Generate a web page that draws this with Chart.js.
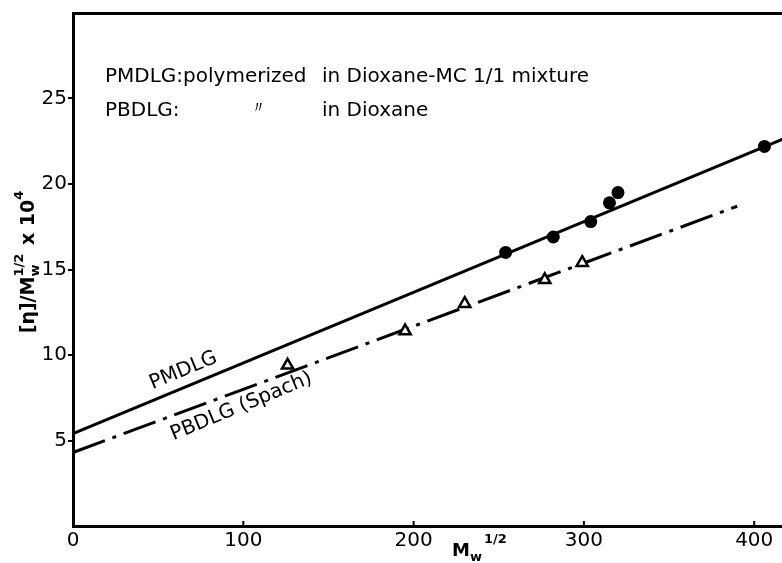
<!DOCTYPE html>
<html lang="en">
<head>
  <meta charset="UTF-8">
  <title>[η]/Mw^1/2 vs Mw^1/2</title>
  <script src="https://cdn.jsdelivr.net/npm/chart.js"></script>
  <style>
    html, body { margin: 0; padding: 0; background: #fff; overflow: hidden; }
    #box { width: 800px; height: 563px; }
  </style>
</head>
<body>
  <div id="box"><canvas id="chart" width="800" height="563"></canvas></div>

  <script>
    // values
    const xTicks = [0, 100, 200, 300, 400];
    const yTicks = [5, 10, 15, 20, 25];

    const pmdlgX = [254, 282, 304, 315, 320, 406];
    const pmdlgY = [16.0, 16.9, 17.8, 18.9, 19.5, 22.2];

    const pbdlgX = [126, 195, 230, 277, 299];
    const pbdlgY = [9.4, 11.4, 13.0, 14.4, 15.4];

    // fitted lines (end points)
    const pmdlgLineX = [0, 421];
    const pmdlgLineY = [5.4, 22.8];
    const pbdlgLineX = [0, 390];
    const pbdlgLineY = [4.3, 18.7];

    const FONT = "'DejaVu Sans', sans-serif";

    const pts = (xs, ys) => xs.map((x, i) => ({ x: x, y: ys[i] }));

    // draw a run of text pieces (for sub / superscripts)
    function drawRich(ctx, parts, x, y, angle, align) {
      ctx.save();
      ctx.translate(x, y);
      ctx.rotate(angle);
      ctx.fillStyle = '#000';
      ctx.textBaseline = 'alphabetic';
      ctx.textAlign = 'left';
      let total = 0, start = 0;
      const widths = parts.map(p => {
        ctx.font = (p.weight || 'normal') + ' ' + p.size + 'px ' + FONT;
        return ctx.measureText(p.t).width;
      });
      parts.forEach((p, i) => {
        if (p.stack) { total = Math.max(total, start + widths[i]); }
        else { start = total + (p.pre || 0); total = start + widths[i]; }
      });
      const x0 = align === 'center' ? -total / 2 : 0;
      let s = x0, end = x0;
      parts.forEach((p, i) => {
        ctx.font = (p.weight || 'normal') + ' ' + p.size + 'px ' + FONT;
        const px = p.stack ? s : end + (p.pre || 0);
        ctx.fillText(p.t, px, p.dy || 0);
        if (!p.stack) s = px;
        end = Math.max(end, px + widths[i]);
      });
      ctx.restore();
    }

    const textPlugin = {
      id: 'figText',
      afterDraw(chart) {
        const ctx = chart.ctx;
        const xs = chart.scales.x, ys = chart.scales.y;

        // small inward ticks on the bottom axis
        ctx.save();
        ctx.strokeStyle = '#000';
        ctx.lineWidth = 2;
        xTicks.slice(1).forEach(v => {
          const px = xs.getPixelForValue(v);
          ctx.beginPath();
          ctx.moveTo(px, ys.bottom);
          ctx.lineTo(px, ys.bottom - 5);
          ctx.stroke();
        });
        ctx.restore();

        // key text
        ctx.save();
        ctx.fillStyle = '#000';
        ctx.font = '20px ' + FONT;
        ctx.textBaseline = 'alphabetic';
        ctx.fillText('PMDLG:polymerized', 105, 82);
        ctx.fillText('in Dioxane-MC 1/1 mixture', 322, 82);
        ctx.fillText('PBDLG:', 105, 116);
        ctx.fillText('in Dioxane', 322, 116);
        ctx.font = '17px ' + FONT;
        ctx.fillText('〃', 250, 113);
        ctx.restore();

        // line labels along the fits
        const ang = -22.5 * Math.PI / 180;
        drawRich(ctx, [{ t: 'PMDLG', size: 20 }],
          xs.getPixelForValue(66), ys.getPixelForValue(8.8), ang, 'center');
        drawRich(ctx, [{ t: 'PBDLG (Spach)', size: 20 }],
          xs.getPixelForValue(100), ys.getPixelForValue(6.7), ang, 'center');

        // y axis title
        drawRich(ctx, [
          { t: '[η]/M', size: 19, weight: 'bold' },
          { t: 'w', size: 13, weight: 'bold', dy: 5 },
          { t: '1/2', size: 13, weight: 'bold', dy: -11, stack: true },
          { t: ' x 10', size: 19, weight: 'bold', pre: 2 },
          { t: '4', size: 13, weight: 'bold', dy: -11 }
        ], 34, 262, -Math.PI / 2, 'center');

        // x axis title
        drawRich(ctx, [
          { t: 'M', size: 18, weight: 'bold' },
          { t: 'w', size: 13, weight: 'bold', dy: 5 },
          { t: '1/2', size: 13, weight: 'bold', dy: -13, pre: 2 }
        ], 452, 556, 0, 'left');
      }
    };

    const ctx = document.getElementById('chart').getContext('2d');
    new Chart(ctx, {
      type: 'scatter',
      data: {
        datasets: [
          {
            label: 'PMDLG',
            data: pts(pmdlgX, pmdlgY),
            pointStyle: 'circle',
            pointRadius: 6.5,
            backgroundColor: '#000',
            borderColor: '#000',
            borderWidth: 0,
            order: 1
          },
          {
            label: 'PBDLG',
            data: pts(pbdlgX, pbdlgY),
            pointStyle: 'triangle',
            pointRadius: 6.5,
            backgroundColor: '#fff',
            borderColor: '#000',
            borderWidth: 2.5,
            order: 1
          },
          {
            label: 'PMDLG fit',
            data: pts(pmdlgLineX, pmdlgLineY),
            showLine: true,
            pointRadius: 0,
            borderColor: '#000',
            borderWidth: 3,
            order: 2
          },
          {
            label: 'PBDLG fit',
            data: pts(pbdlgLineX, pbdlgLineY),
            showLine: true,
            pointRadius: 0,
            borderColor: '#000',
            borderWidth: 3,
            borderDash: [34, 8, 4, 8],
            order: 2
          }
        ]
      },
      options: {
        responsive: false,
        animation: false,
        events: [],
        layout: { padding: { left: 0, right: 10, top: 0, bottom: 0 } },
        plugins: {
          legend: { display: false },
          tooltip: { enabled: false }
        },
        scales: {
          x: {
            type: 'linear',
            position: 'bottom',
            min: 0,
            max: 421,
            afterFit: s => { s.height = 37; },
            afterBuildTicks: s => { s.ticks = xTicks.map(v => ({ value: v })); },
            ticks: {
              color: '#000',
              padding: 3,
              maxRotation: 0,
              font: { family: FONT, size: 20 }
            },
            grid: { display: true, drawOnChartArea: false, drawTicks: false },
            border: { display: true, color: '#000', width: 3 }
          },
          x2: {
            type: 'linear',
            position: 'top',
            min: 0,
            max: 421,
            afterFit: s => { s.height = 13; },
            ticks: { display: false },
            grid: { display: false },
            border: { display: true, color: '#000', width: 3 }
          },
          y: {
            type: 'linear',
            min: 0,
            max: 30,
            afterFit: s => { s.width = 73; },
            afterBuildTicks: s => { s.ticks = yTicks.map(v => ({ value: v })); },
            ticks: {
              color: '#000',
              padding: 1,
              font: { family: FONT, size: 20 }
            },
            grid: {
              display: true,
              drawOnChartArea: false,
              drawTicks: true,
              tickLength: 5,
              color: '#000',
              lineWidth: 2
            },
            border: { display: true, color: '#000', width: 3 }
          }
        }
      },
      plugins: [textPlugin]
    });
  </script>
</body>
</html>
